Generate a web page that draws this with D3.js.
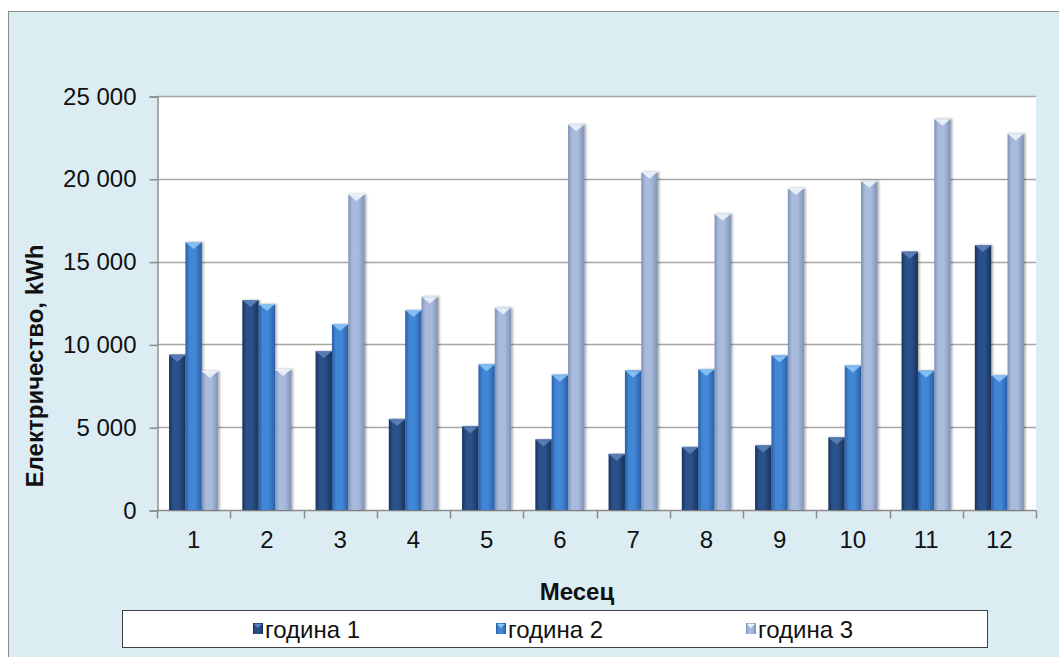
<!DOCTYPE html>
<html>
<head>
<meta charset="utf-8">
<script src="https://cdn.jsdelivr.net/npm/d3@7"></script>
<style>
  html, body { margin: 0; padding: 0; background: #ffffff; }
  svg { display: block; font-family: "Liberation Sans", Arial, sans-serif; }
</style>
</head>
<body>
<svg id="chart" width="1059" height="657"></svg>
<script>
// Monthly electricity use, kWh
const months = ["1", "2", "3", "4", "5", "6", "7", "8", "9", "10", "11", "12"];
const seriesNames = ["година 1", "година 2", "година 3"];
const year1 = [9380, 12680, 9600, 5500, 5060, 4260, 3390, 3810, 3900, 4380, 15600, 16000];
const year2 = [16180, 12440, 11230, 12080, 8800, 8170, 8430, 8510, 9340, 8720, 8420, 8150];
const year3 = [8390, 8510, 19080, 12900, 12230, 23290, 20420, 17890, 19440, 19880, 23630, 22730];
const yTicks = [0, 5000, 10000, 15000, 20000, 25000];

const seriesValues = [year1, year2, year3];
const palette = [
  { edge: "#18325a", mid: "#2b5189", hi: "#5d82b8" },
  { edge: "#2a5fa6", mid: "#4286d6", hi: "#8cc4f5" },
  { edge: "#7f92b6", mid: "#a9bbdd", hi: "#eef4fc" }
];

const svg = d3.select("#chart");
const W = 1059, H = 657;
const plot = { left: 157, right: 1036, top: 96, bottom: 510 };
const FS = 24;

// chart frame
svg.append("rect").attr("x", 8.5).attr("y", 11.5).attr("width", W).attr("height", H)
  .attr("fill", "#dbecf3").attr("stroke", "#8c8c8c").attr("stroke-width", 1);
svg.append("rect").attr("x", plot.left).attr("y", plot.top)
  .attr("width", plot.right - plot.left).attr("height", plot.bottom - plot.top)
  .attr("fill", "#ffffff");

const defs = svg.append("defs");
palette.forEach((p, i) => {
  const g = defs.append("linearGradient").attr("id", "bar" + i)
    .attr("x1", "0").attr("x2", "1").attr("y1", "0").attr("y2", "0");
  g.append("stop").attr("offset", "0%").attr("stop-color", p.edge);
  g.append("stop").attr("offset", "25%").attr("stop-color", p.mid);
  g.append("stop").attr("offset", "60%").attr("stop-color", p.mid);
  g.append("stop").attr("offset", "100%").attr("stop-color", p.edge);
});
const shadow = defs.append("filter").attr("id", "shadow")
  .attr("x", "-50%").attr("y", "-10%").attr("width", "200%").attr("height", "120%");
shadow.append("feDropShadow").attr("dx", 1.5).attr("dy", 0).attr("stdDeviation", 1.3)
  .attr("flood-color", "#000").attr("flood-opacity", 0.35);

const x0 = d3.scaleBand().domain(months).range([plot.left, plot.right]).padding(0);
const groupW = x0.bandwidth() * 0.67;
const x1 = d3.scaleBand().domain(d3.range(3)).range([0, groupW]).padding(0);
const y = d3.scaleLinear().domain([0, 25000]).range([plot.bottom, plot.top]);

const fmt = d3.formatLocale({ decimal: ",", thousands: " ", grouping: [3], currency: ["", ""] }).format(",");

// gridlines
svg.append("g").selectAll("line").data(yTicks.filter(d => d > 0)).join("line")
  .attr("x1", plot.left).attr("x2", plot.right)
  .attr("y1", d => Math.round(y(d)) + 0.5).attr("y2", d => Math.round(y(d)) + 0.5)
  .attr("stroke", "#a6a6a6").attr("stroke-width", 1.5);

// y axis
const yAxis = svg.append("g").attr("transform", `translate(${plot.left + 0.5},0.5)`)
  .call(d3.axisLeft(y).tickValues(yTicks).tickFormat(fmt).tickSize(8).tickPadding(13));
yAxis.select(".domain").attr("stroke", "#8c8c8c").attr("stroke-width", 1.5);
yAxis.selectAll(".tick line").attr("stroke", "#8c8c8c").attr("stroke-width", 1.5);
yAxis.selectAll(".tick text").attr("font-size", FS).attr("fill", "#111")
  .attr("font-family", "'Liberation Sans', Arial, sans-serif");

// x axis with ticks between categories
const xAxis = svg.append("g").attr("transform", `translate(0,${plot.bottom + 0.5})`);
xAxis.append("line").attr("x1", plot.left).attr("x2", plot.right)
  .attr("stroke", "#8c8c8c").attr("stroke-width", 1.5);
xAxis.selectAll("line.tk").data(months.concat(["end"])).join("line").attr("class", "tk")
  .attr("x1", (d, i) => Math.round(plot.left + i * x0.step()) + 0.5)
  .attr("x2", (d, i) => Math.round(plot.left + i * x0.step()) + 0.5)
  .attr("y1", 0).attr("y2", 8)
  .attr("stroke", "#8c8c8c").attr("stroke-width", 1.5);
xAxis.selectAll("text").data(months).join("text")
  .attr("x", d => x0(d) + x0.bandwidth() / 2).attr("y", 37)
  .attr("text-anchor", "middle").attr("font-size", FS).attr("fill", "#111")
  .text(d => d);

// bars
const offset = (x0.bandwidth() - groupW) / 2;
seriesValues.forEach((vals, si) => {
  const g = svg.append("g");
  const bw = x1.bandwidth();
  g.selectAll("rect").data(vals).join("rect")
    .attr("x", (d, i) => x0(months[i]) + offset + x1(si))
    .attr("y", d => y(d))
    .attr("width", bw)
    .attr("height", d => y(0) - y(d))
    .attr("fill", `url(#bar${si})`)
    .attr("filter", "url(#shadow)");
  // bevel at the top of each bar
  g.selectAll("path").data(vals).join("path")
    .attr("d", (d, i) => {
      const bx = x0(months[i]) + offset + x1(si), by = y(d);
      return `M${bx + 1},${by + 1} L${bx + bw - 1},${by + 1} L${bx + bw / 2},${by + 7} Z`;
    })
    .attr("fill", palette[si].hi).attr("opacity", 0.9);
  g.selectAll("line").data(vals).join("line")
    .attr("x1", (d, i) => x0(months[i]) + offset + x1(si))
    .attr("x2", (d, i) => x0(months[i]) + offset + x1(si) + bw)
    .attr("y1", d => y(d) + 0.5).attr("y2", d => y(d) + 0.5)
    .attr("stroke", palette[si].hi).attr("stroke-width", 1);
});

// axis titles
svg.append("text").attr("x", 577).attr("y", 600).attr("text-anchor", "middle")
  .attr("font-size", FS).attr("font-weight", "bold").attr("fill", "#111").text("Месец");
svg.append("text").attr("transform", "translate(43,366) rotate(-90)")
  .attr("text-anchor", "middle").attr("font-size", FS).attr("font-weight", "bold")
  .attr("fill", "#111").text("Електричество, kWh");

// legend
const lg = svg.append("g");
lg.append("rect").attr("x", 122.5).attr("y", 610.5).attr("width", 865).attr("height", 37)
  .attr("fill", "#ffffff").attr("stroke", "#404040").attr("stroke-width", 1);
const legendX = [253, 496, 746];
seriesNames.forEach((name, i) => {
  lg.append("rect").attr("x", legendX[i]).attr("y", 623).attr("width", 10).attr("height", 11)
    .attr("fill", `url(#bar${i})`);
  lg.append("path")
    .attr("d", `M${legendX[i] + 1},${624} L${legendX[i] + 9},${624} L${legendX[i] + 5},${628} Z`)
    .attr("fill", palette[i].hi);
  lg.append("text").attr("x", legendX[i] + 12).attr("y", 638)
    .attr("font-size", FS).attr("fill", "#111").text(name);
});
</script>
</body>
</html>
